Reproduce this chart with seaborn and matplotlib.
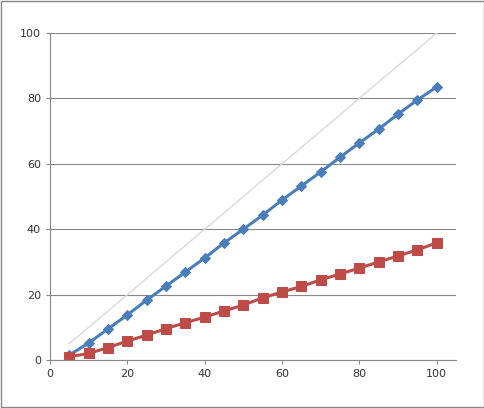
import matplotlib
matplotlib.use("Agg")
import matplotlib.pyplot as plt
import seaborn as sns
import pandas as pd

x = [5,10,15,20,25,30,35,40,45,50,55,60,65,70,75,80,85,90,95,100]
blue = [1.5,5.2,9.5,13.8,18.3,22.6,26.9,31.2,35.8,40,44.3,48.9,53.2,57.5,62,66.4,70.6,75.2,79.5,83.5]
red = [1,2,3.8,5.8,7.6,9.6,11.4,13.1,15,16.8,19,20.8,22.5,24.5,26.3,28.1,30,31.8,33.7,35.8]
ref = [5,100]
xticks = [0,20,40,60,80,100]
yticks = [0,20,40,60,80,100]

sns.set_style("white")
plt.rcParams['font.family'] = ['DejaVu Sans']
fig = plt.figure(figsize=(4.85,4.08), dpi=100)
fig.patches.append(plt.Rectangle((0.002,0.002),0.996,0.996,transform=fig.transFigure,fill=False,edgecolor='#888888',lw=1))
W,H = 485,408
ax = fig.add_axes([50/W, 1-360/H, 406/W, 327/H])
df = pd.DataFrame({'x':x,'blue':blue,'red':red})
sns.lineplot(x=ref, y=ref, ax=ax, color='#d9d9d9', lw=1)
sns.lineplot(data=df, x='x', y='blue', ax=ax, color='#4a7ebb', lw=2.2, marker='D', markersize=5.5, markeredgecolor='#4a7ebb')
sns.lineplot(data=df, x='x', y='red', ax=ax, color='#be4b48', lw=2.2, marker='s', markersize=6.5, markeredgecolor='#be4b48')
ax.set_xlim(0,105)
ax.set_ylim(0,100)
ax.set_xticks(xticks); ax.set_yticks(yticks)
ax.set_xlabel(''); ax.set_ylabel('')
ax.yaxis.grid(True, color='#888888', lw=0.8)
for s in ['top','right']:
    ax.spines[s].set_visible(False)
for s in ['left','bottom']:
    ax.spines[s].set_color('#888888')
ax.tick_params(labelsize=8, colors='#333333', length=3, direction='out', left=True, bottom=True)
ax.tick_params(axis='both', color='#888888')
fig.savefig('out.png', dpi=100)
